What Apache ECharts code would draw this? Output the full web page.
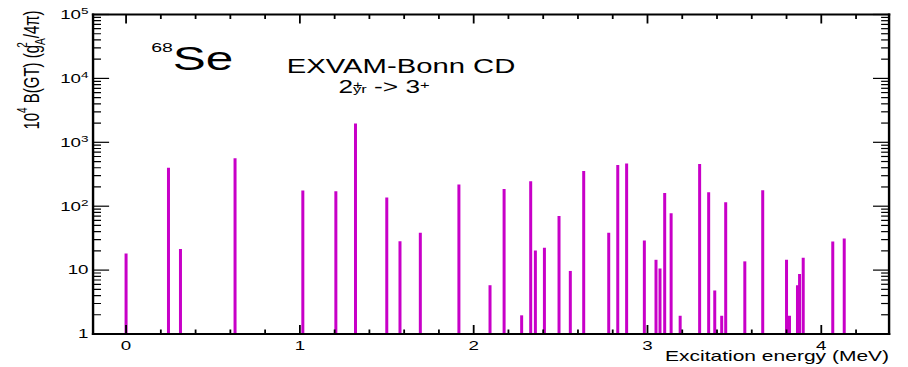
<!DOCTYPE html>
<html>
<head>
<meta charset="utf-8">
<script src="https://cdn.jsdelivr.net/npm/echarts@6/dist/echarts.min.js"></script>
<style>
  html, body { margin: 0; padding: 0; background: #fff; overflow: hidden; }
  /* the reference is stretched sideways by 1.5, so draw at 605 wide and stretch */
  #main { width: 605px; height: 367px; transform: scaleX(1.5008); transform-origin: 0 0; }
</style>
</head>
<body>
<div id="main"></div>
<script>
// 68Se, EXVAM-Bonn CD, 2+yr -> 3+ : B(GT) strength per final state
var energies = [0, 0.244, 0.313, 0.627, 1.017, 1.207, 1.32, 1.50, 1.576, 1.693,
  1.915, 2.094, 2.175, 2.276, 2.328, 2.355, 2.407, 2.491, 2.556, 2.633,
  2.777, 2.829, 2.88, 2.982, 3.049, 3.072, 3.099, 3.136, 3.188, 3.30,
  3.352, 3.387, 3.427, 3.45, 3.56, 3.663, 3.80, 3.817, 3.863, 3.875,
  3.896, 4.066, 4.132]
var strengths = [18.2, 400, 21.3, 563, 176, 171, 1960, 137, 28.4, 38.3,
  218, 5.8, 186, 1.96, 246, 20.3, 22.3, 70.5, 9.7, 355,
  38.3, 442, 465, 29.1, 14.5, 10.6, 161, 77.7, 1.93, 457,
  166, 4.8, 1.93, 115, 13.7, 178, 14.5, 1.93, 5.8, 8.7,
  15.6, 28, 31.3]

var xMajorTicks = [0, 1, 2, 3, 4]
var xMinorTicks = [0.2, 0.4, 0.6, 0.8, 1.2, 1.4, 1.6, 1.8, 2.2, 2.4, 2.6, 2.8,
  3.2, 3.4, 3.6, 3.8, 4.2]
var yMajorTicks = [1, 10, 100, 1000, 10000, 100000]
var yMinorTicks = [2, 3, 4, 5, 6, 7, 8, 9,
  20, 30, 40, 50, 60, 70, 80, 90,
  200, 300, 400, 500, 600, 700, 800, 900,
  2000, 3000, 4000, 5000, 6000, 7000, 8000, 9000,
  20000, 30000, 40000, 50000, 60000, 70000, 80000, 90000]

var FONT = 'Liberation Sans, Arial, sans-serif'
var BAR = '#c800c8'
var INK = '#000'

var myChart = echarts.init(document.getElementById('main'), null, { renderer: 'svg' })

function box(x, y, w, h) {
  return { type: 'rect', shape: { x: x, y: y, width: w, height: h }, style: { fill: INK } }
}

// ticks on both bottom and top edge (ROOT style, pointing inwards)
function xTickItem(len) {
  return function (params, api) {
    var cs = params.coordSys
    var px = api.coord([api.value(0), 1])[0]
    return {
      type: 'group',
      children: [
        box(px - 0.6, cs.y + cs.height - len, 1.2, len),
        box(px - 0.6, cs.y, 1.2, len)
      ]
    }
  }
}

// ticks on both left and right edge
function yTickItem(len) {
  return function (params, api) {
    var cs = params.coordSys
    var py = api.coord([0, api.value(1)])[1]
    return {
      type: 'group',
      children: [
        box(cs.x, py - 0.6, len, 1.2),
        box(cs.x + cs.width - len, py - 0.6, len, 1.2)
      ]
    }
  }
}

function tickSeries(name, data, item) {
  return {
    name: name,
    type: 'custom',
    clip: false,
    silent: true,
    z: 5,
    renderItem: item,
    encode: { x: 0, y: 1 },
    data: data
  }
}

var subStyle = { fontSize: 10, lineHeight: 10, verticalAlign: 'bottom', fill: INK, fontFamily: FONT }
var supStyle = { fontSize: 10, lineHeight: 10, verticalAlign: 'top', fill: INK, fontFamily: FONT }
var supZero = { fontSize: 10, lineHeight: 10, verticalAlign: 'top', fill: INK, fontFamily: FONT, width: 0 }

var option = {
  animation: false,
  backgroundColor: '#fff',
  grid: {
    left: 62,
    right: 12.6,
    top: 14.5,
    bottom: 33
  },
  xAxis: {
    type: 'value',
    min: -0.19,
    max: 4.39,
    axisLine: { show: false, onZero: false },
    axisTick: { show: false },
    splitLine: { show: false },
    axisLabel: {
      customValues: xMajorTicks,
      margin: 5,
      color: INK,
      fontFamily: FONT,
      fontSize: 12.5
    }
  },
  yAxis: {
    type: 'log',
    logBase: 10,
    min: 1,
    max: 100000,
    axisLine: { show: false, onZero: false },
    axisTick: { show: false },
    splitLine: { show: false },
    axisLabel: {
      customValues: yMajorTicks,
      margin: 3,
      color: INK,
      fontFamily: FONT,
      fontSize: 12.5,
      lineHeight: 16,
      formatter: function (v) {
        if (v < 1.5) return '1'
        if (v < 15) return '10'
        return '10{sup|' + Math.round(Math.log(v) / Math.LN10) + '}'
      },
      rich: {
        sup: { fontSize: 9, lineHeight: 9, verticalAlign: 'top', color: INK, fontFamily: FONT }
      }
    }
  },
  graphic: [
    {
      type: 'text',
      x: 20.7,
      y: 70,
      rotation: Math.PI / 2,
      style: {
        text: '10{sup|4} B(GT) (g{supz|2}{sub|A}/4π)',
        fontFamily: FONT,
        fontSize: 15,
        lineHeight: 22,
        fill: INK,
        align: 'center',
        verticalAlign: 'middle',
        rich: { sup: supStyle, supz: supZero, sub: subStyle }
      }
    },
    {
      type: 'text',
      x: 592.4,
      y: 356,
      style: {
        text: 'Excitation energy (MeV)',
        fontFamily: FONT,
        fontSize: 14,
        lineHeight: 11,
        fill: INK,
        align: 'right',
        verticalAlign: 'middle'
      }
    },
    {
      type: 'text',
      x: 100.7,
      y: 59,
      style: {
        text: '{s|68}{b|Se}',
        fill: INK,
        align: 'left',
        verticalAlign: 'middle',
        rich: {
          s: { fontSize: 13, lineHeight: 13, verticalAlign: 'top', fill: INK, fontFamily: FONT },
          b: { fontSize: 33, lineHeight: 36, fill: INK, fontFamily: FONT }
        }
      }
    },
    {
      type: 'text',
      x: 191,
      y: 65.5,
      style: {
        text: 'EXVAM-Bonn CD',
        fontFamily: FONT,
        fontSize: 19.5,
        lineHeight: 14,
        fill: INK,
        align: 'left',
        verticalAlign: 'middle'
      }
    },
    {
      type: 'text',
      x: 225.5,
      y: 87,
      style: {
        text: '2{supz|+}{sub|yr} -> 3{sup|+}',
        fontFamily: FONT,
        fontSize: 17.5,
        lineHeight: 15,
        fill: INK,
        align: 'left',
        verticalAlign: 'middle',
        rich: {
          sup: { fontSize: 11, lineHeight: 9, verticalAlign: 'top', fill: INK, fontFamily: FONT },
          supz: { fontSize: 11, lineHeight: 9, verticalAlign: 'top', fill: INK, fontFamily: FONT, width: 0 },
          sub: { fontSize: 11, lineHeight: 9, verticalAlign: 'bottom', fill: INK, fontFamily: FONT }
        }
      }
    }
  ],
  series: [
    {
      name: 'B(GT)',
      type: 'custom',
      clip: true,
      renderItem: function (params, api) {
        var top = api.coord([api.value(0), api.value(1)])
        var base = api.coord([api.value(0), 1])
        return {
          type: 'rect',
          shape: { x: top[0] - 1, y: top[1], width: 2, height: base[1] - top[1] },
          style: { fill: BAR }
        }
      },
      encode: { x: 0, y: 1 },
      data: energies.map(function (e, i) { return [e, strengths[i]] })
    },
    // plot frame
    tickSeries('frame', [[0, 1]], function (params) {
      var cs = params.coordSys
      return {
        type: 'group',
        children: [
          box(cs.x - 0.8, cs.y - 0.9, cs.width + 1.6, 1.8),
          box(cs.x - 0.8, cs.y + cs.height - 0.9, cs.width + 1.6, 1.8),
          box(cs.x - 0.8, cs.y - 0.9, 1.6, cs.height + 1.8),
          box(cs.x + cs.width - 0.8, cs.y - 0.9, 1.6, cs.height + 1.8)
        ]
      }
    }),
    tickSeries('xMajor', xMajorTicks.map(function (v) { return [v, 1] }), xTickItem(9)),
    tickSeries('xMinor', xMinorTicks.map(function (v) { return [v, 1] }), xTickItem(4.5)),
    tickSeries('yMajor', yMajorTicks.map(function (v) { return [0, v] }), yTickItem(10.7)),
    tickSeries('yMinor', yMinorTicks.map(function (v) { return [0, v] }), yTickItem(5.3))
  ]
}

option && myChart.setOption(option)
</script>
</body>
</html>
